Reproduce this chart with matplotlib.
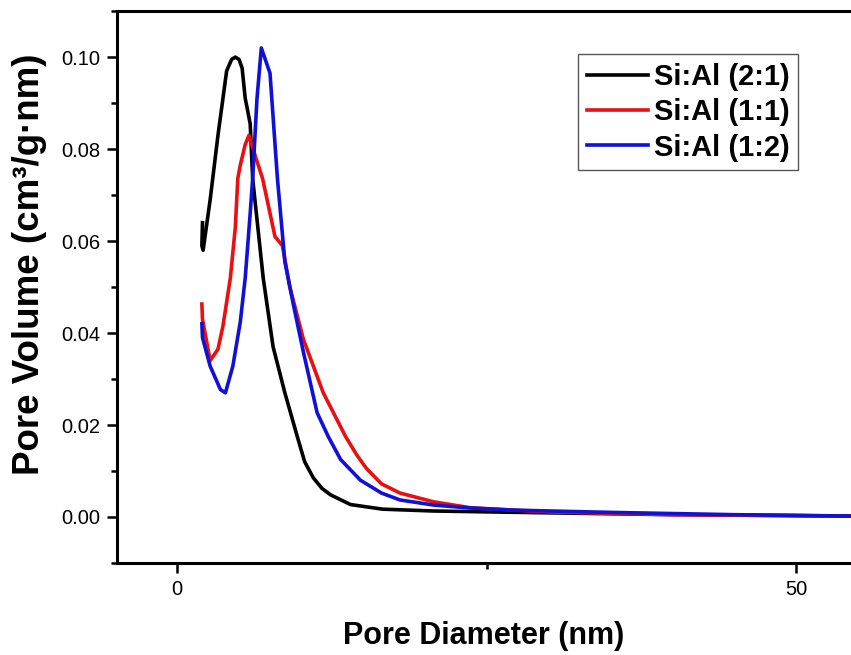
import matplotlib.pyplot as plt
from matplotlib.ticker import MultipleLocator

plt.rcParams['font.family'] = ['Liberation Sans', 'DejaVu Sans']

# Si:Al (2:1)
d_21 = [2.05, 2.0, 2.1, 2.67, 3.3, 4.0, 4.4, 4.7, 5.0, 5.25, 5.5, 5.65, 5.9, 6.1, 6.95,
        7.75, 8.7, 9.7, 10.3, 11.0, 11.7, 12.4, 14.0, 16.6, 20.7, 30, 40, 54.5]
v_21 = [0.064, 0.059, 0.058, 0.069, 0.083, 0.097, 0.0995, 0.100, 0.0995, 0.0976, 0.091,
        0.089, 0.0855, 0.0736, 0.052, 0.037, 0.027, 0.0175, 0.012, 0.0085, 0.0062, 0.0048,
        0.0027, 0.0017, 0.0013, 0.0009, 0.0005, 0.0002]

# Si:Al (1:1)
d_11 = [2.0, 2.05, 2.67, 3.3, 3.7, 4.3, 4.7, 4.9, 5.1, 5.5, 5.8, 6.3, 6.9, 7.9, 8.5,
        9.1, 10.2, 11.8, 13.6, 14.5, 15.3, 16.5, 18.0, 20.7, 23.7, 30, 40, 54.5]
v_11 = [0.0463, 0.043, 0.034, 0.0365, 0.0415, 0.052, 0.063, 0.0736, 0.0765, 0.081, 0.083,
        0.0786, 0.0736, 0.061, 0.059, 0.050, 0.0386, 0.027, 0.0175, 0.0135, 0.0105, 0.0072,
        0.0052, 0.0033, 0.002, 0.0011, 0.0005, 0.0002]

# Si:Al (1:2)
d_12 = [2.0, 2.05, 2.67, 3.5, 3.9, 4.5, 5.1, 5.5, 5.9, 6.1, 6.45, 6.8, 7.5, 8.1, 8.7,
        9.4, 10.2, 11.3, 12.2, 13.2, 14.8, 16.5, 18.0, 20.7, 23.4, 27, 35, 45, 54.5]
v_12 = [0.042, 0.039, 0.0328, 0.0277, 0.027, 0.0328, 0.0424, 0.052, 0.066, 0.0736, 0.091,
        0.102, 0.0965, 0.0736, 0.0555, 0.046, 0.0358, 0.0227, 0.0175, 0.0125, 0.008,
        0.0052, 0.0037, 0.0026, 0.002, 0.0015, 0.001, 0.0005, 0.0002]

fig = plt.figure(figsize=(8.51, 6.55), dpi=100)
ax = fig.add_axes([0.1375, 0.1405, 0.8625, 0.8425])

ax.plot(d_21, v_21, color='black', lw=2.6, label='Si:Al (2:1)')
ax.plot(d_11, v_11, color='#e81010', lw=2.6, label='Si:Al (1:1)')
ax.plot(d_12, v_12, color='#1010d8', lw=2.6, label='Si:Al (1:2)')

ax.set_xlim(-4.85, 54.4)
ax.set_ylim(-0.01, 0.11)
ax.xaxis.set_major_locator(MultipleLocator(50))
ax.xaxis.set_minor_locator(MultipleLocator(25))
ax.yaxis.set_major_locator(MultipleLocator(0.02))
ax.yaxis.set_minor_locator(MultipleLocator(0.01))
ax.yaxis.set_major_formatter(plt.FormatStrFormatter('%.2f'))

ax.tick_params(which='major', direction='out', length=7, width=1.8, labelsize=14.5, pad=5)
ax.tick_params(which='minor', direction='out', length=4, width=1.8)
for side in ['left', 'bottom', 'top']:
    ax.spines[side].set_linewidth(2.2)
ax.spines['right'].set_visible(False)

ax.set_xlabel('Pore Diameter (nm)', fontsize=22, fontweight='bold', labelpad=16)
ax.set_ylabel('Pore Volume (cm³/g·nm)', fontsize=26.5, fontweight='bold')
ax.yaxis.set_label_coords(-0.096, 0.542)

leg = ax.legend(loc='upper left', bbox_to_anchor=(0.628, 0.922), fancybox=False,
                edgecolor='#555555', framealpha=1, handlelength=2.1,
                prop={'weight': 'bold', 'size': 21}, borderpad=0.3,
                labelspacing=0.25, handletextpad=0.2, borderaxespad=0)
leg.get_frame().set_linewidth(1.0)

fig.savefig('out.png', dpi=100)
